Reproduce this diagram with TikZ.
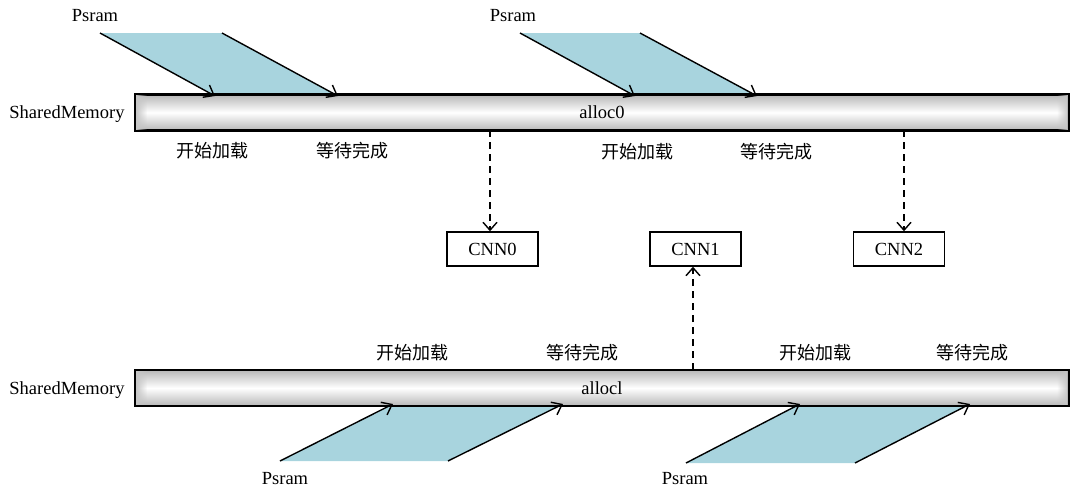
\documentclass[tikz,border=0pt]{standalone}
\usepackage{fontspec}
\setmainfont{Liberation Serif}
\newfontfamily\cjk{Noto Sans CJK SC}
\usetikzlibrary{arrows.meta,fadings}
\definecolor{psramblue}{RGB}{168,212,222}
\tikzset{
  every node/.style={font=\fontsize{18.5}{21}\selectfont, inner sep=0pt},
  zh/.style={font=\cjk\fontsize{18}{21}\selectfont},
  membar/.style={draw=black, line width=1.8pt, top color=gray!55, bottom color=gray!55,
                 middle color=white, minimum width=932pt, minimum height=35pt},
  cnnbox/.style={draw=black, line width=1.4pt, minimum width=91pt, minimum height=34pt},
  feed/.style={draw=black, line width=1.4pt, -{Straight Barb[length=9pt,width=14pt]}},
  link/.style={draw=black, line width=1.4pt, dash pattern=on 7pt off 5pt,
               -{Straight Barb[length=8pt,width=14pt]}},
  band/.style={fill=psramblue, draw=none}
}
\begin{document}
\begin{tikzpicture}[x=1pt,y=-1pt]
\useasboundingbox (0,0) rectangle (1072,490);

% ---- Psram transfers into alloc0 (drawn first, under the bar) ----
\coordinate (pa1) at (100,33);  \coordinate (pa2) at (222,33);
\coordinate (qa1) at (215,96);  \coordinate (qa2) at (338,96);
\coordinate (pb1) at (520,33);  \coordinate (pb2) at (640,33);
\coordinate (qb1) at (635,96);  \coordinate (qb2) at (757,96);
\fill[band] (pa1) -- (pa2) -- (qa2) -- (qa1) -- cycle;
\fill[band] (pb1) -- (pb2) -- (qb2) -- (qb1) -- cycle;

% ---- Psram transfers into alloc1 ----
\coordinate (pc1) at (280,461); \coordinate (pc2) at (448,461);
\coordinate (qc1) at (393,404); \coordinate (qc2) at (563,404);
\coordinate (pd1) at (686,463); \coordinate (pd2) at (855,463);
\coordinate (qd1) at (800,404); \coordinate (qd2) at (970,404);
\fill[band] (pc1) -- (pc2) -- (qc2) -- (qc1) -- cycle;
\fill[band] (pd1) -- (pd2) -- (qd2) -- (qd1) -- cycle;

% ---- shared memory bars ----
\node[membar] (bar0) at (602,112.5) {alloc0};
\node[membar] (bar1) at (602,388) {allocl};
% soft shading at the bar ends
\foreach \b in {bar0,bar1}{
  \fill[gray!45, path fading=east] ([xshift=1pt,yshift=-1pt]\b.north west) rectangle ([xshift=12pt,yshift=1pt]\b.south west);
  \fill[gray!45, path fading=west] ([xshift=-12pt,yshift=-1pt]\b.north east) rectangle ([xshift=-1pt,yshift=1pt]\b.south east);
  \draw[line width=1.8pt] (\b.north west) rectangle (\b.south east);
}
\node (sm0) at (67,114) {SharedMemory};
\node (sm1) at (67,390) {SharedMemory};

% ---- transfer edges ----
\draw[feed] (pa1) -- (qa1);
\draw[feed] (pa2) -- (qa2);
\draw[feed] (pb1) -- (qb1);
\draw[feed] (pb2) -- (qb2);
\draw[feed] (pc1) -- (qc1);
\draw[feed] (pc2) -- (qc2);
\draw[feed] (pd1) -- (qd1);
\draw[feed] (pd2) -- (qd2);

\node (ps0) at (95,16) {Psram};
\node (ps1) at (513,16) {Psram};
\node (ps2) at (285,479) {Psram};
\node (ps3) at (685,479) {Psram};

% ---- phase labels ----
\node[zh] (st0) at (212,151) {开始加载};
\node[zh] (wt0) at (352,151) {等待完成};
\node[zh] (st1) at (637,152) {开始加载};
\node[zh] (wt1) at (776,152) {等待完成};
\node[zh] (st2) at (412,353) {开始加载};
\node[zh] (wt2) at (582,353) {等待完成};
\node[zh] (st3) at (815,353) {开始加载};
\node[zh] (wt3) at (972,353) {等待完成};

% ---- consumers ----
\node[cnnbox] (cnn0) at (492.5,249) {CNN0};
\node[cnnbox] (cnn1) at (695.5,249) {CNN1};
\node[cnnbox] (cnn2) at (899,249) {CNN2};

\coordinate (o0) at (490,130);
\coordinate (o2) at (904,130);
\coordinate (o1) at (693,370);
\draw[link] (o0) -- (o0 |- cnn0.north);
\draw[link] (o2) -- (o2 |- cnn2.north);
\draw[link] (o1) -- (o1 |- cnn1.south);
\end{tikzpicture}
\end{document}
